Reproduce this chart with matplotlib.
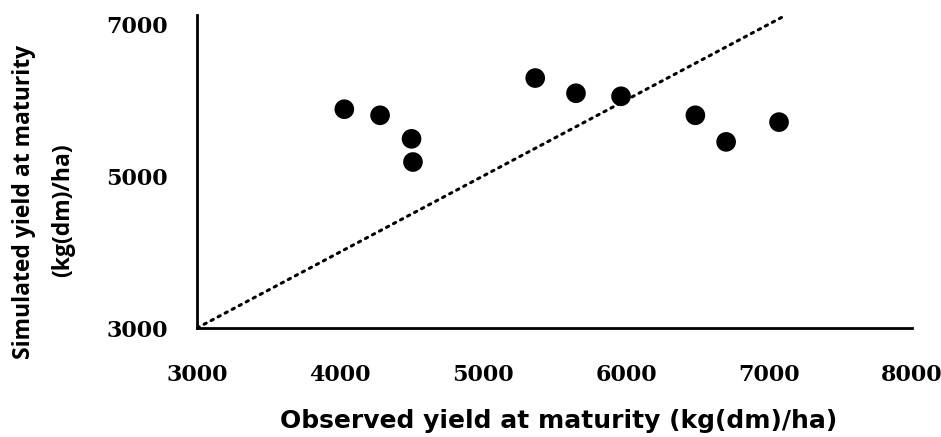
import matplotlib
matplotlib.use("Agg")
import matplotlib.pyplot as plt

# Data
observed = [4030, 4280, 4500, 4510, 5365, 5650, 5965, 6485, 6700, 7070]
simulated = [5880, 5800, 5490, 5185, 6290, 6090, 6050, 5800, 5450, 5710]
x_ticks = [3000, 4000, 5000, 6000, 7000, 8000]
y_ticks = [3000, 5000, 7000]
one_to_one = [3000, 7120]

fig = plt.figure(figsize=(9.41, 4.37), dpi=100)
ax = fig.add_axes([0.2094, 0.2494, 0.9692 - 0.2094, 0.9657 - 0.2494])

ax.plot(one_to_one, one_to_one, color="black", linewidth=2.2,
        linestyle=(0, (0.8, 1.8)), dash_capstyle="round", zorder=2)
ax.scatter(observed, simulated, s=200, color="black", edgecolors="none", zorder=3)

ax.set_xlim(3000, 8000)
ax.set_ylim(3000, 7120)
ax.set_xticks(x_ticks)
ax.set_yticks(y_ticks)
ax.tick_params(length=0)
for lab in ax.get_xticklabels() + ax.get_yticklabels():
    lab.set_fontfamily("DejaVu Serif")
    lab.set_fontweight("bold")
    lab.set_fontsize(16)
ax.tick_params(axis="x", pad=26)
ax.tick_params(axis="y", pad=21)

for side in ["top", "right"]:
    ax.spines[side].set_visible(False)
for side in ["left", "bottom"]:
    ax.spines[side].set_linewidth(2.0)
    ax.spines[side].set_color("black")

fig.text(559 / 941, 1 - 428 / 437, "Observed yield at maturity (kg(dm)/ha)",
         ha="center", va="baseline", fontfamily="DejaVu Sans",
         fontweight="bold", fontsize=18)
fig.text(24 / 941, 1 - 202 / 437, "Simulated yield at maturity", rotation=90,
         ha="center", va="center", fontfamily="Open Sans",
         fontweight="bold", fontsize=16.5)
fig.text(63 / 941, 1 - 210 / 437, "(kg(dm)/ha)", rotation=90,
         ha="center", va="center", fontfamily="Open Sans",
         fontweight="bold", fontsize=16.5)

fig.savefig("out.png", dpi=100)
